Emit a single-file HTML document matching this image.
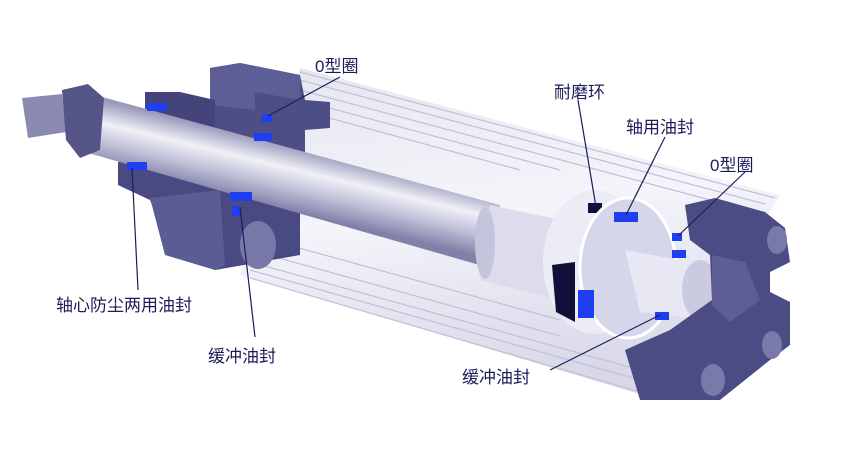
<!DOCTYPE html>
<html><head><meta charset="utf-8"><style>
html,body{margin:0;padding:0;background:#fff}
svg{display:block}
text{font-family:"Liberation Sans","Noto Sans CJK SC",sans-serif;font-size:17px;fill:#1c1c5a}
</style></head><body>
<svg width="860" height="456" viewBox="0 0 860 456" xmlns="http://www.w3.org/2000/svg">
<defs>
<linearGradient id="rod" gradientUnits="userSpaceOnUse" x1="300" y1="148" x2="285" y2="210">
<stop offset="0" stop-color="#9a9abc"/><stop offset="0.35" stop-color="#f0f0f8"/><stop offset="0.65" stop-color="#c0c0d8"/><stop offset="1" stop-color="#8080a8"/></linearGradient>
<linearGradient id="tube" x1="0" y1="0" x2="0.2" y2="1">
<stop offset="0" stop-color="#e6e6f0"/><stop offset="0.5" stop-color="#f4f4fa"/><stop offset="1" stop-color="#d8d8e8"/></linearGradient>
</defs>
<!-- tube -->
<polygon points="300,68 780,195 660,400 240,275" fill="url(#tube)"/>
<g stroke="#c0c0d8" stroke-width="1.2">
<line x1="300" y1="72" x2="775" y2="198"/><line x1="300" y1="80" x2="765" y2="204"/><line x1="300" y1="90" x2="755" y2="212"/>
<line x1="300" y1="100" x2="560" y2="170"/><line x1="300" y1="110" x2="520" y2="170"/>
<line x1="250" y1="262" x2="640" y2="370"/><line x1="250" y1="270" x2="640" y2="380"/><line x1="250" y1="278" x2="640" y2="392"/>
<line x1="250" y1="250" x2="560" y2="336"/><line x1="270" y1="240" x2="560" y2="320"/>
</g>
<!-- left cap upper -->
<polygon points="210,68 240,63 300,75 305,100 330,102 330,128 305,130 305,155 210,130" fill="#4e4e86"/>
<polygon points="210,68 240,63 300,75 300,100 255,92 255,110 210,105" fill="#5e5e96"/>
<polygon points="145,92 180,92 215,100 215,140 145,125" fill="#44447a"/>
<!-- left cap lower -->
<polygon points="118,162 160,160 225,178 280,175 300,195 300,255 215,270 170,250 150,200 118,185" fill="#4a4a82"/>
<polygon points="150,198 220,190 225,265 215,270 165,255" fill="#5c5c94"/>
<ellipse cx="258" cy="245" rx="18" ry="24" fill="#7878a8"/>
<!-- rod -->
<polygon points="95,95 500,205 490,268 85,152" fill="url(#rod)"/>
<polygon points="22,98 62,94 66,132 28,138" fill="#8a8ab2"/>
<polygon points="62,90 88,84 104,98 100,150 80,158 66,140" fill="#55558a"/>
<!-- seals left -->
<g fill="#1f3ef0">
<rect x="147" y="103" width="20" height="8"/><rect x="262" y="114" width="10" height="8"/><rect x="254" y="133" width="18" height="8"/>
<rect x="127" y="162" width="20" height="8"/><rect x="230" y="192" width="22" height="9"/><rect x="232" y="206" width="8" height="10"/>
</g>
<!-- rod shoulder & piston -->
<polygon points="490,205 570,222 560,300 480,280" fill="#dcdcec"/>
<ellipse cx="485" cy="243" rx="10" ry="36" fill="#c4c4dc"/>
<ellipse cx="595" cy="262" rx="52" ry="72" fill="#ececf6"/>
<polygon points="552,265 575,262 575,322 556,312" fill="#10103a"/>
<rect x="588" y="203" width="14" height="10" fill="#10103a"/>
<ellipse cx="628" cy="268" rx="48" ry="70" fill="#d6d6ea" stroke="#fff" stroke-width="3"/>
<polygon points="625,250 690,262 710,320 640,312" fill="#e8e8f4"/>
<ellipse cx="700" cy="290" rx="18" ry="30" fill="#cacae0"/>
<g fill="#1f3ef0">
<rect x="614" y="212" width="24" height="10"/><rect x="578" y="290" width="16" height="28"/><rect x="655" y="312" width="14" height="8"/><rect x="672" y="233" width="10" height="8"/><rect x="672" y="250" width="14" height="8"/>
</g>
<!-- right cap -->
<polygon points="685,205 715,198 765,212 785,228 790,262 770,272 770,292 790,302 790,345 770,360 720,400 640,400 625,350 670,330 712,300 710,255 690,240" fill="#4c4c84"/>
<polygon points="712,255 745,262 760,300 730,322 712,305" fill="#5e5e96"/>
<ellipse cx="777" cy="240" rx="10" ry="14" fill="#7a7aaa"/>
<ellipse cx="772" cy="345" rx="10" ry="14" fill="#7a7aaa"/>
<ellipse cx="713" cy="380" rx="12" ry="16" fill="#7a7aaa"/>
<!-- leader lines -->
<g stroke="#1c1c5a" stroke-width="1.2" fill="none">
<line x1="340" y1="77" x2="268" y2="116"/>
<line x1="578" y1="100" x2="596" y2="207"/>
<line x1="665" y1="137" x2="626" y2="215"/>
<line x1="745" y1="172" x2="678" y2="236"/>
<line x1="138" y1="290" x2="132" y2="168"/>
<line x1="255" y1="337" x2="240" y2="207"/>
<line x1="550" y1="370" x2="660" y2="315"/>
</g>
<text x="315" y="72">0型圈</text>
<text x="554" y="98">耐磨环</text>
<text x="626" y="133">轴用油封</text>
<text x="710" y="171">0型圈</text>
<text x="56" y="311">轴心防尘两用油封</text>
<text x="208" y="362">缓冲油封</text>
<text x="462" y="383">缓冲油封</text>
</svg>
</body></html>
